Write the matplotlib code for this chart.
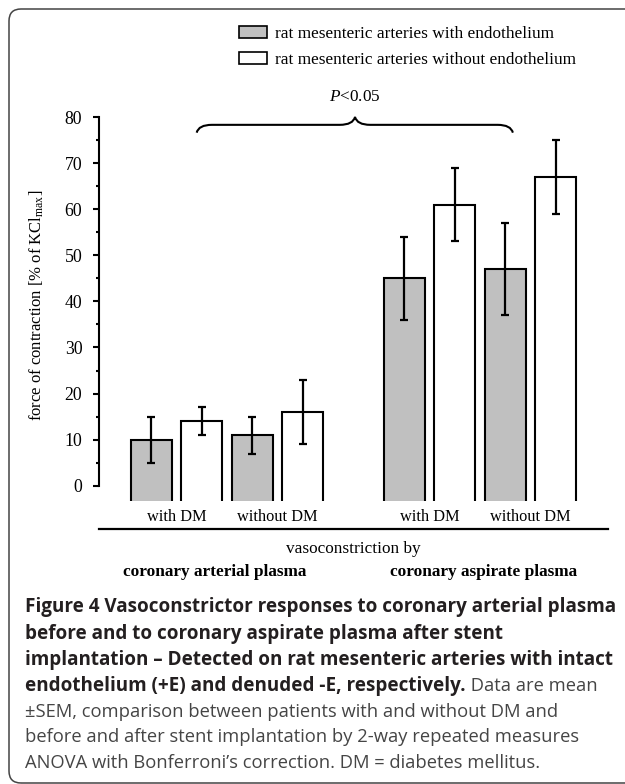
import numpy as np
import matplotlib
matplotlib.use("Agg")
import matplotlib.pyplot as plt
from matplotlib import transforms
from matplotlib.lines import Line2D
from matplotlib.patches import FancyBboxPatch, Patch, PathPatch
from matplotlib.path import Path

# data (bar order: plasma -> DM status -> +E / -E)
groups = ["coronary arterial plasma", "coronary aspirate plasma"]
subgroups = ["with DM", "without DM"]
series = ["rat mesenteric arteries with endothelium",
          "rat mesenteric arteries without endothelium"]
means = [10, 14, 11, 16, 45, 61, 47, 67]
sem = [5, 3, 4, 7, 9, 8, 10, 8]
yticks = [0, 10, 20, 30, 40, 50, 60, 70, 80]

caption_bold = [
    "Figure 4 Vasoconstrictor responses to coronary arterial plasma",
    "before and to coronary aspirate plasma after stent",
    "implantation \u2013 Detected on rat mesenteric arteries with intact",
    "endothelium (+E) and denuded -E, respectively.",
]
caption_plain = [
    " Data are mean",
    "\u00b1SEM, comparison between patients with and without DM and",
    "before and after stent implantation by 2-way repeated measures",
    "ANOVA with Bonferroni\u2019s correction. DM = diabetes mellitus.",
]

plt.rcParams["font.family"] = "Liberation Serif"
plt.rcParams["mathtext.fontset"] = "custom"
plt.rcParams["mathtext.rm"] = "Liberation Serif"
plt.rcParams["mathtext.it"] = "Liberation Serif:italic"
FS = 12.4

W, H = 625, 784
fig = plt.figure(figsize=(W / 100, H / 100), dpi=100)
# axes box in pixels: x 99..608, y 117..501 (from top)
ax = fig.add_axes([99 / W, 1 - 501 / H, (608 - 99) / W, (501 - 117) / H])

# bar slots: 4 per plasma group with one empty slot between groups
pos = np.array([1 + g * 5 + i for g in range(len(groups)) for i in range(4)])
fills = ["#c0c0c0", "white"] * 4
ylo = -3.3
# bars start below the visible bottom so no bottom edge is drawn
ax.bar(pos, np.array(means) + 20, bottom=-20, width=0.81,
       color=fills, edgecolor="black", linewidth=1.5, zorder=2)
ax.errorbar(pos, means, yerr=sem, fmt="none", ecolor="black",
            elinewidth=1.6, capsize=3, capthick=1.6, zorder=3)

ax.set_xlim(-0.03, 10.03)
ax.set_ylim(ylo, 80)
for s in ["top", "right", "bottom"]:
    ax.spines[s].set_visible(False)
ax.spines["left"].set_bounds(0, 80)
ax.spines["left"].set_linewidth(1.5)
ax.set_yticks(yticks)
ax.set_yticks(np.array(yticks[:-1]) + 5, minor=True)
ax.tick_params(axis="y", which="major", length=4.5, width=1.5, pad=7.5, labelsize=12.8)
ax.tick_params(axis="y", which="minor", length=2.2, width=1.5)

mid = [pos[i] + 0.5 for i in range(0, len(pos), 2)]
ax.set_xticks(mid)
ax.set_xticklabels(subgroups * len(groups))
ax.tick_params(axis="x", length=0, pad=6, labelsize=11.8)

ax.set_ylabel("force of contraction [% of KCl$_\\mathrm{max}$]", fontsize=12)
ax.yaxis.set_label_coords(-0.105, 0.51)

# long rule under the subgroup labels
fig.add_artist(Line2D([99 / W, 608 / W], [1 - 529 / H] * 2, color="black", lw=1.6))

bt = transforms.blended_transform_factory(ax.transData, fig.transFigure)
ax.text(5, 1 - 549 / H, "vasoconstriction by", transform=bt, ha="center",
        va="center", fontsize=FS)
for xc, g in zip([2.26, 7.57], groups):
    ax.text(xc, 1 - 572 / H, g, transform=bt, ha="center", va="center",
            fontsize=FS, fontweight="bold")

# curly brace + significance
x0, x1, xc = 1.9, 8.15, 5.03
yt, yf, ye = 80.0, 78.3, 76.6
hw = 0.3
verts = [(x0, ye), (x0 + 0.04, yf), (x0 + hw, yf),
         (xc - hw, yf), (xc - 0.04, yf), (xc, yt),
         (xc + 0.04, yf), (xc + hw, yf),
         (x1 - hw, yf), (x1 - 0.04, yf), (x1, ye)]
codes = [Path.MOVETO, Path.CURVE3, Path.CURVE3,
         Path.LINETO, Path.CURVE3, Path.CURVE3,
         Path.CURVE3, Path.CURVE3,
         Path.LINETO, Path.CURVE3, Path.CURVE3]
ax.add_patch(PathPatch(Path(verts, codes), fill=False, lw=1.5,
                       edgecolor="black", clip_on=False))
ax.text(xc, 1 - 97 / H, "$P$<0.05", transform=bt, ha="center", va="center",
        fontsize=FS)

handles = [Patch(facecolor="#c0c0c0", edgecolor="black", lw=1.2),
           Patch(facecolor="white", edgecolor="black", lw=1.2)]
fig.legend(handles, series, loc="upper left", bbox_to_anchor=(239 / W, 1 - 26 / H),
           frameon=False, fontsize=FS, handlelength=1.6, handleheight=0.65,
           handletextpad=0.5, labelspacing=0.58, borderpad=0, borderaxespad=0)

# rounded frame, open at the right (cropped)
fig.add_artist(FancyBboxPatch((0.09, 0.01), 6.6, 7.74,
                              boxstyle="round,pad=0,rounding_size=0.12",
                              transform=fig.dpi_scale_trans, fill=False,
                              edgecolor="#444444", lw=1.1))

# caption
line_y = [607, 634, 660, 686, 712, 737, 763]
last = None
for i, t in enumerate(caption_bold):
    last = fig.text(25 / W, 1 - line_y[i] / H, t, family="Open Sans",
                    fontsize=13.6, fontweight="bold", color="#231f20",
                    va="center", ha="left")
fig.canvas.draw()
plain_kw = dict(family="Open Sans", fontsize=13.2, color="#454545",
                va="center", ha="left")
bb = last.get_window_extent()
fig.text(bb.x1 / W, 1 - line_y[3] / H, caption_plain[0], **plain_kw)
for i, t in enumerate(caption_plain[1:]):
    fig.text(25 / W, 1 - line_y[4 + i] / H, t, **plain_kw)

fig.savefig("out.png", dpi=100)
